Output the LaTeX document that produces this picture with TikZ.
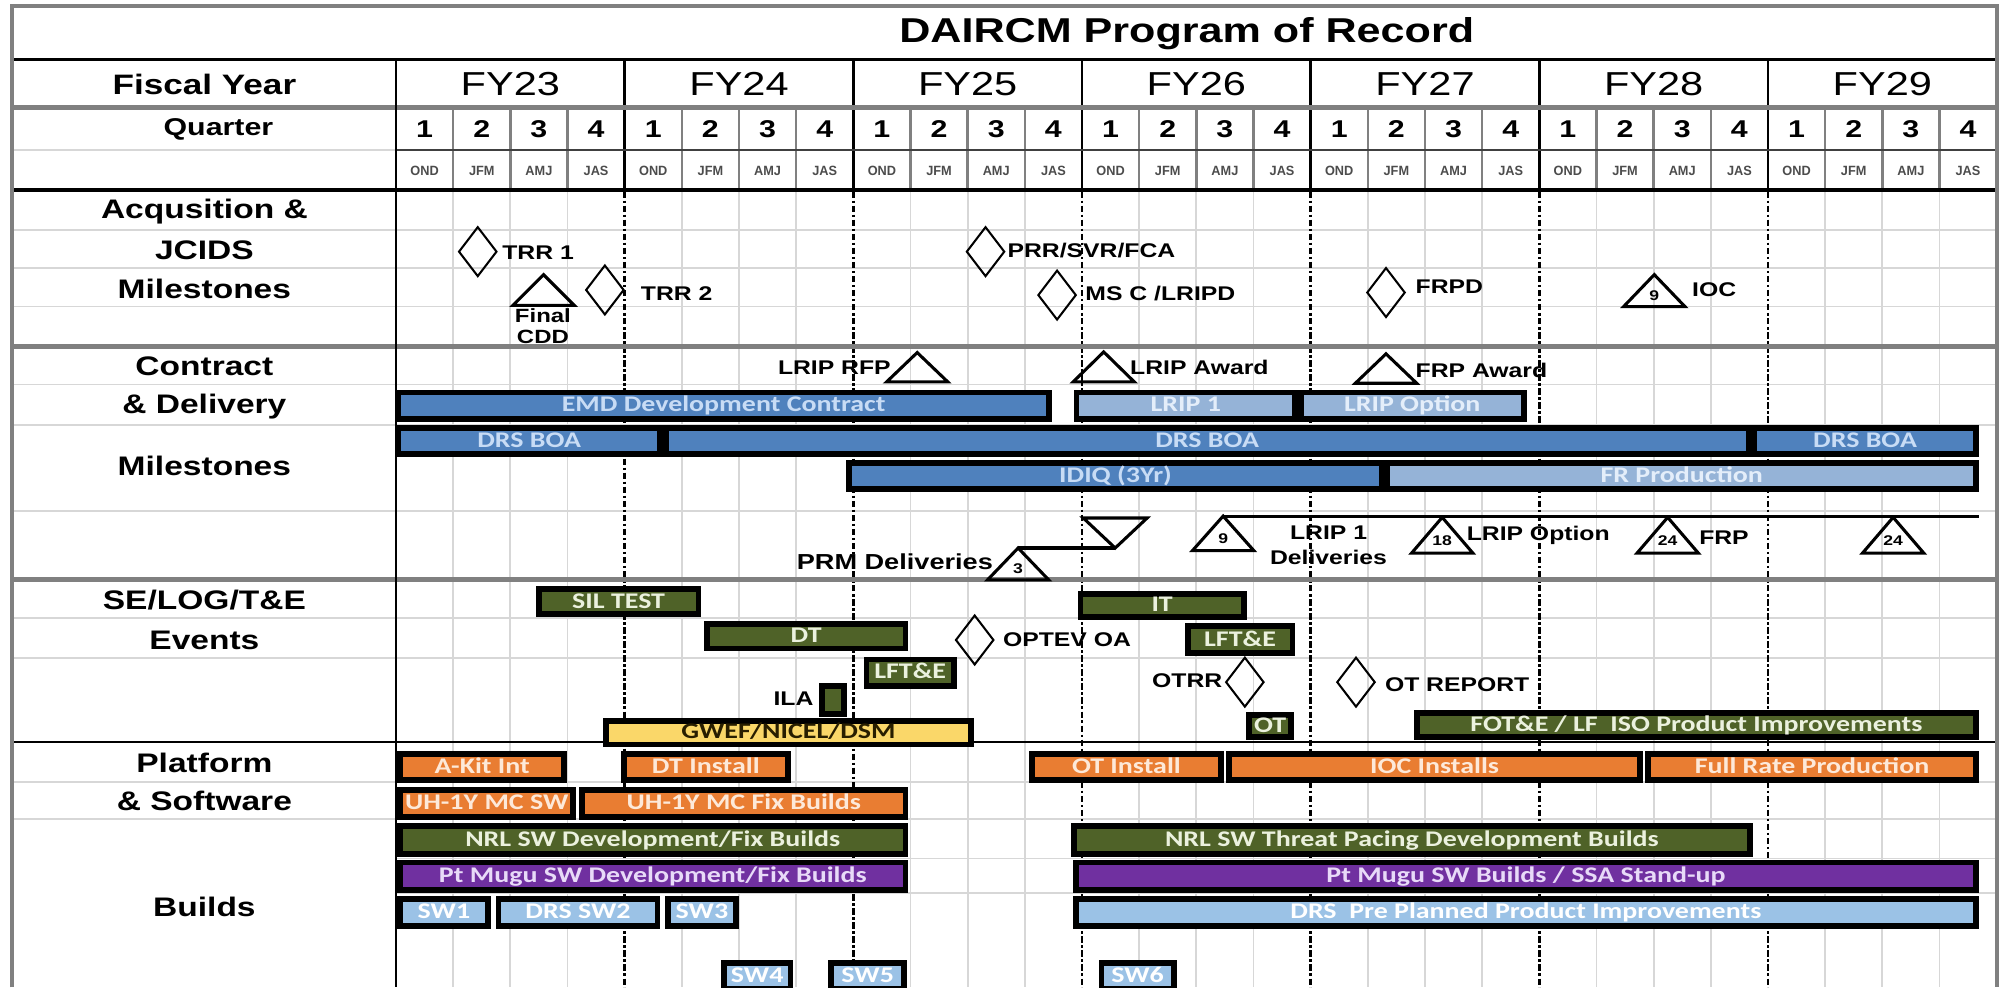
\documentclass[tikz,border=0pt]{standalone}
\usepackage{fontspec}
\setmainfont{Liberation Sans}[FakeStretch=1.25]
\newfontfamily\barfont{Carlito}[FakeStretch=1.25]
\newfontfamily\monthfont{Liberation Sans}[FakeStretch=0.95]
\usetikzlibrary{shapes.geometric}

\definecolor{gridgray}{RGB}{215,215,215}
\definecolor{framegray}{RGB}{128,128,128}
\definecolor{blueA}{RGB}{79,129,189}
\definecolor{blueL}{RGB}{149,179,215}
\definecolor{blueS}{RGB}{155,194,230}
\definecolor{greenD}{RGB}{79,98,40}
\definecolor{orangeB}{RGB}{233,125,50}
\definecolor{purpleB}{RGB}{112,48,160}
\definecolor{yellowB}{RGB}{250,215,105}
\definecolor{txtblue}{RGB}{200,220,245}
\definecolor{txtlight}{RGB}{228,238,250}
\definecolor{txtgreen}{RGB}{235,241,222}
\definecolor{txtorange}{RGB}{253,233,217}
\definecolor{txtpurple}{RGB}{232,218,248}
\definecolor{txtdark}{RGB}{40,30,0}

\tikzset{
  gbar/.style={draw=black, line width=4.5pt, inner sep=0pt, text height=10.5pt, text depth=0.5pt,
    font=\barfont\bfseries\fontsize{17.5}{17.5}\selectfont},
  bluebar/.style={fill=blueA, text=txtblue},
  lbluebar/.style={fill=blueL, text=txtlight},
  greenbar/.style={fill=greenD, text=txtgreen},
  orangebar/.style={fill=orangeB, text=txtorange},
  purplebar/.style={fill=purpleB, text=txtpurple},
  swbar/.style={fill=blueS, text=white},
  yellowbar/.style={fill=yellowB, text=txtdark},
  dia/.style={diamond, draw=black, line width=1.6pt, minimum width=30pt, minimum height=39pt, inner sep=0pt},
  ml/.style={font=\bfseries\fontsize{15.5}{15.5}\selectfont, inner sep=0pt},
  seclab/.style={font=\bfseries\fontsize{21}{21}\selectfont, inner sep=0pt},
  trishape/.style={draw=black, line width=2.4pt, line join=miter},
  trinum/.style={font=\bfseries\fontsize{11}{11}\selectfont, inner sep=0pt},
  conn/.style={draw=black, line width=2.4pt},
  gridline/.style={draw=gridgray, line width=1.4pt},
  yeardash/.style={draw=black, line width=2pt, dash pattern=on 5pt off 2pt on 2pt off 2pt},
}

\newcommand\gbar[7]{%
  \node[gbar,#6,minimum width={#4-#2-4.5}, minimum height={#5-#3-4.5}] (#1) at ({(#2+#4)/2},{(#3+#5)/2}) {#7};}
\newcommand\mtri[5]{%
  \coordinate (#1) at (#2,#3);
  \draw[trishape] (#1) -- ++(24,#4) -- ++(-48,0) -- cycle;
  \node[trinum] (#1n) at (#2,{#3+0.66*#4}) {#5};}

\begin{document}
\begin{tikzpicture}[x=1pt,y=-1pt]
\useasboundingbox (0,0) rectangle (1568,773);
\fill[white] (0,0) rectangle (1568,773);

% ---------- body grid ----------
\foreach \y in {180,210,240,301,333,400,484,515,612,641}
  \draw[gridline] (9.5,\y) -- (1563,\y);
\foreach \y in {672,699}
  \draw[gridline] (310,\y) -- (1563,\y);
\draw[gridline] (9.5,117.5) -- (310,117.5);
\foreach \q in {1,...,27} {
  \pgfmathtruncatemacro\m{mod(\q,4)}
  \ifnum\m=0
    \draw[black, line width=2pt] ({310+44.75*\q},46.5) -- ({310+44.75*\q},148.5);
  \else
    \draw[gridline] ({310+44.75*\q},148.5) -- ({310+44.75*\q},773);
    \draw[framegray, line width=2pt] ({310+44.75*\q},84) -- ({310+44.75*\q},148.5);
  \fi
}
\foreach \i in {1,...,6}
  \draw[yeardash] ({310+179*\i},150) -- ({310+179*\i},773);

% ---------- header lines ----------
\draw[black, line width=1.8pt] (9.5,46.5) -- (1563,46.5);
\draw[framegray, line width=4pt] (9.5,84) -- (1563,84);
\draw[black!75, line width=1.5pt] (310,117.5) -- (1563,117.5);
\draw[black, line width=3pt] (9.5,148.5) -- (1563,148.5);
\draw[framegray, line width=4pt] (9.5,271.5) -- (1563,271.5);
\draw[framegray, line width=4pt] (9.5,453.5) -- (1563,453.5);
\draw[black, line width=1.5pt] (9.5,581) -- (1563,581);
\draw[black, line width=2pt] (310,46.5) -- (310,773);
\draw[framegray, line width=3pt] (9.5,773) -- (9.5,5) -- (1563,5) -- (1563,773);

% ---------- header text ----------
\node[font=\bfseries\fontsize{27}{27}\selectfont] (title) at (929,26) {DAIRCM Program of Record};
\node[font=\bfseries\fontsize{22}{22}\selectfont] (fylab) at (160,66) {Fiscal Year};
\node[font=\bfseries\fontsize{19}{19}\selectfont] (qlab) at (171,101) {Quarter};
\foreach \i in {0,...,6} {
  \pgfmathtruncatemacro\yr{23+\i}
  \node[font=\fontsize{26}{26}\selectfont] (fy\i) at ({310+179*\i+89.5},66) {FY\yr};
}
\foreach \q in {0,...,27} {
  \pgfmathtruncatemacro\qq{mod(\q,4)}
  \pgfmathtruncatemacro\qn{\qq+1}
  \node[font=\bfseries\fontsize{19}{19}\selectfont] (qn\q) at ({310+44.75*(\q+0.5)},101) {\qn};
  \node[font=\monthfont\bfseries\fontsize{10.5}{10.5}\selectfont, text=black!70] (mo\q) at ({310+44.75*(\q+0.5)},134)
    {\ifcase\qq OND\or JFM\or AMJ\or JAS\fi};
}

% ---------- section labels ----------
\node[seclab] (s1a) at (160,166) {Acqusition \&};
\node[seclab] (s1b) at (160,196) {JCIDS};
\node[seclab] (s1c) at (160,226) {Milestones};
\node[seclab] (s2a) at (160,287) {Contract};
\node[seclab] (s2b) at (160,318) {\& Delivery};
\node[seclab] (s2c) at (160,365) {Milestones};
\node[seclab] (s3a) at (160,470) {SE/LOG/T\&E};
\node[seclab] (s3b) at (160,501) {Events};
\node[seclab] (s4a) at (160,597) {Platform};
\node[seclab] (s4b) at (160,627) {\& Software};
\node[seclab] (s4c) at (160,710) {Builds};

% ---------- acquisition milestones ----------
\node[dia] (trr1) at (374,197) {};
\node[ml, anchor=west] (trr1l) at (393,198) {TRR 1};
\node[dia] (trr2) at (473.5,227) {};
\node[ml, anchor=west] (trr2l) at (501.5,230) {TRR 2};
\node[dia] (prr) at (771.5,197) {};
\node[ml, anchor=west] (prrl) at (788.5,196) {PRR/SVR/FCA};
\node[dia] (msc) at (827.5,231) {};
\node[ml, anchor=west] (mscl) at (849.5,230) {MS C /LRIPD};
\node[dia] (frpd) at (1085,229) {};
\node[ml, anchor=west] (frpdl) at (1108,224.5) {FRPD};
\mtri{cdd}{425.5}{215}{24}{}
\node[ml, font=\bfseries\fontsize{15}{15}\selectfont] (cddl1) at (425,247) {Final};
\node[ml, font=\bfseries\fontsize{15}{15}\selectfont] (cddl2) at (425,264) {CDD};
\mtri{ioc}{1295}{215}{25}{9}
\node[ml, anchor=west] (iocl) at (1324.5,227) {IOC};

% ---------- contract milestones ----------
\mtri{rfp}{718}{276}{23}{}
\node[ml, anchor=east] (rfpl) at (697.5,288) {LRIP RFP};
\mtri{award}{864}{275.5}{23.5}{}
\node[ml, anchor=west] (awardl) at (884.5,288) {LRIP Award};
\mtri{frpa}{1085}{277}{23}{}
\node[ml, anchor=west] (frpal) at (1108,290) {FRP Award};

\gbar{emd}{309.5}{305}{823.5}{330}{bluebar}{EMD Development Contract}
\gbar{lrip1}{840.5}{305}{1016}{330}{lbluebar}{LRIP 1}
\gbar{lripo}{1016}{305}{1195}{330}{lbluebar}{LRIP Option}
\gbar{boa1}{309.5}{333}{519}{357.5}{bluebar}{DRS BOA}
\gbar{boa2}{519}{333}{1371}{357.5}{bluebar}{DRS BOA}
\gbar{boa3}{1371}{333}{1549}{357.5}{bluebar}{DRS BOA}
\gbar{idiq}{662.5}{360}{1084}{385}{bluebar}{IDIQ (3Yr)}
\gbar{frprod}{1084}{360}{1549}{385}{lbluebar}{FR Production}

% ---------- deliveries ----------
\mtri{t3}{797}{429}{25}{3}
\coordinate (tv) at (873,429);
\draw[trishape] (tv) -- ++(-25,-23.5) -- ++(50,0) -- cycle;
\draw[conn] (t3) -- (tv);
\node[ml, anchor=east, font=\bfseries\fontsize{17}{17}\selectfont] (prml) at (777.5,440) {PRM Deliveries};
\mtri{t9}{957.5}{404}{27}{9}
\coordinate (dend) at (1549,404);
\draw[conn] (t9) -- (dend);
\node[ml] (l1l1) at (1040,417) {LRIP 1};
\node[ml] (l1l2) at (1040,436) {Deliveries};
\mtri{t18}{1129}{405}{28}{18}
\node[ml, anchor=west] (t18l) at (1148,419) {LRIP Option};
\mtri{t24a}{1305.5}{405}{28}{24}
\node[ml, anchor=west] (t24l) at (1330,421) {FRP};
\mtri{t24b}{1482}{405}{28}{24}

% ---------- SE/LOG/T&E ----------
\gbar{sil}{419.5}{459}{549}{483}{greenbar}{SIL TEST}
\gbar{dt}{551}{486}{711}{510}{greenbar}{DT}
\gbar{lfte1}{676}{514}{749}{539}{greenbar}{LFT\&E}
\gbar{ila}{641}{535}{663}{561}{greenbar}{}
\node[ml, anchor=east] (ilal) at (637,547) {ILA};
\gbar{gwef}{472}{562}{762.5}{585}{yellowbar}{GWEF/NICEL/DSM}
\node[dia] (optev) at (763,501) {};
\node[ml, anchor=west] (optevl) at (785,501) {OPTEV OA};
\gbar{it}{843.5}{463}{976}{485}{greenbar}{IT}
\gbar{lfte2}{927.5}{488}{1014}{513.5}{greenbar}{LFT\&E}
\node[dia] (otrr) at (974.5,534) {};
\node[ml, anchor=east] (otrrl) at (957,533) {OTRR};
\gbar{ot}{975.5}{557.5}{1013}{579}{greenbar}{OT}
\node[dia] (otrep) at (1061.5,534) {};
\node[ml, anchor=west] (otrepl) at (1084,536) {OT REPORT};
\gbar{fote}{1107}{556}{1549}{579}{greenbar}{FOT\&E / LF\ \ ISO Product Improvements}

% ---------- Platform & Software ----------
\gbar{akit}{311}{588}{444}{613}{orangebar}{A-Kit Int}
\gbar{dtin}{486}{588}{619}{613}{orangebar}{DT Install}
\gbar{otin}{805.5}{588}{958}{613}{orangebar}{OT Install}
\gbar{iocin}{960}{588}{1286}{613}{orangebar}{IOC Installs}
\gbar{frpr}{1288}{588}{1549}{613}{orangebar}{Full Rate Production}
\gbar{uhsw}{311}{616}{451}{642}{orangebar}{UH-1Y MC SW}
\gbar{uhfix}{453.5}{616}{711}{642}{orangebar}{UH-1Y MC Fix Builds}
\gbar{nrl1}{311}{644.5}{711}{670.5}{greenbar}{NRL SW Development/Fix Builds}
\gbar{nrl2}{838.5}{644.5}{1372}{670.5}{greenbar}{NRL SW Threat Pacing Development Builds}
\gbar{mugu1}{311}{673}{711}{699}{purplebar}{Pt Mugu SW Development/Fix Builds}
\gbar{mugu2}{840}{673}{1549}{699}{purplebar}{Pt Mugu SW Builds / SSA Stand-up}
\gbar{sw1}{311}{701.5}{384}{727}{swbar}{SW1}
\gbar{sw2}{388}{701.5}{517}{727}{swbar}{DRS SW2}
\gbar{sw3}{520.5}{701.5}{578.5}{727}{swbar}{SW3}
\gbar{ppi}{840}{701.5}{1549}{727}{swbar}{DRS\ \ Pre Planned Product Improvements}
\gbar{sw4}{564.5}{751.5}{621}{776}{swbar}{SW4}
\gbar{sw5}{648.5}{751.5}{710}{776}{swbar}{SW5}
\gbar{sw6}{860}{751.5}{921}{776}{swbar}{SW6}
\end{tikzpicture}
\end{document}
